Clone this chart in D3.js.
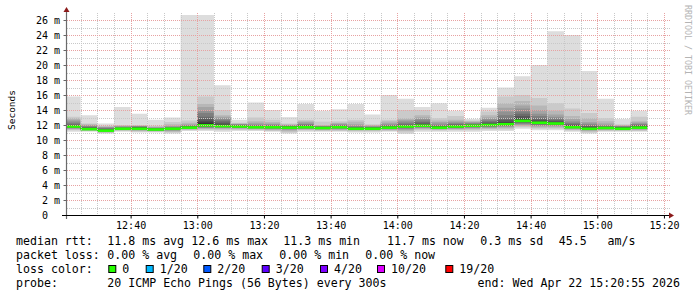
<!DOCTYPE html>
<html>
<head>
<meta charset="utf-8">
<script src="https://cdn.jsdelivr.net/npm/d3@7"></script>
<style>
html, body { margin: 0; padding: 0; background: #fff; }
svg { display: block; }
text { font-family: "DejaVu Sans Mono", monospace; fill: #000; }
</style>
</head>
<body>
<svg id="chart" width="697" height="297"></svg>
<script>
// time window of the graph (3 hours, 300s steps)
const startTime = new Date(2026, 3, 22, 12, 20, 55);
const endTime = new Date(2026, 3, 22, 15, 20, 55);
const firstStep = new Date(2026, 3, 22, 12, 25, 0);
const stepMinutes = 5;

// median rtt per step (ms)
const medians = [
  11.8, 11.45, 11.25, 11.5, 11.5, 11.4, 11.5, 11.65, 11.95, 11.85,
  11.8, 11.7, 11.7, 11.65, 11.7, 11.6, 11.7, 11.5, 11.5, 11.65,
  11.8, 11.9, 11.65, 11.8, 11.9, 12.0, 12.1, 12.55, 12.3, 12.2,
  11.7, 11.5, 11.6, 11.5, 11.65
];

// the 20 sorted pings of every step (ms)
const pings = [
  [11.1, 11.3, 11.4, 11.5, 11.55, 11.6, 11.65, 11.7, 11.75, 11.8, 11.8, 11.9, 12.0, 12.1, 12.3, 12.5, 12.7, 12.9, 13.1, 15.8],
  [11.1, 11.2, 11.25, 11.3, 11.35, 11.4, 11.45, 11.5, 11.5, 11.5, 11.55, 11.6, 11.65, 11.7, 11.8, 11.9, 12.0, 12.1, 12.2, 13.3],
  [10.85, 10.95, 11.0, 11.1, 11.15, 11.2, 11.2, 11.25, 11.25, 11.3, 11.3, 11.35, 11.4, 11.5, 11.6, 11.7, 11.75, 11.8, 11.9, 12.2],
  [11.1, 11.2, 11.3, 11.35, 11.4, 11.45, 11.45, 11.5, 11.5, 11.5, 11.55, 11.6, 11.6, 11.65, 11.7, 11.8, 11.85, 11.9, 12.0, 14.4],
  [11.0, 11.1, 11.2, 11.3, 11.35, 11.4, 11.45, 11.5, 11.5, 11.55, 11.6, 11.65, 11.7, 11.75, 11.8, 11.8, 11.85, 11.9, 12.0, 13.5],
  [11.0, 11.1, 11.15, 11.2, 11.25, 11.3, 11.35, 11.35, 11.4, 11.4, 11.45, 11.5, 11.5, 11.55, 11.6, 11.65, 11.7, 11.8, 11.9, 12.7],
  [10.85, 11.0, 11.1, 11.2, 11.3, 11.35, 11.4, 11.45, 11.5, 11.5, 11.5, 11.55, 11.6, 11.65, 11.7, 11.8, 11.9, 12.1, 12.4, 13.0],
  [11.2, 11.3, 11.4, 11.45, 11.5, 11.55, 11.6, 11.6, 11.65, 11.65, 11.7, 11.75, 11.8, 11.85, 11.9, 12.0, 12.1, 12.3, 12.6, 28.4],
  [11.2, 11.35, 11.5, 11.55, 11.6, 11.7, 11.8, 11.85, 11.9, 12.0, 12.3, 12.5, 12.8, 13.1, 13.6, 13.9, 14.4, 14.8, 15.8, 27.9],
  [11.1, 11.3, 11.45, 11.55, 11.6, 11.7, 11.75, 11.8, 11.85, 11.85, 11.95, 12.1, 12.3, 12.5, 12.7, 12.9, 13.1, 13.3, 14.0, 17.3],
  [11.2, 11.35, 11.45, 11.55, 11.6, 11.65, 11.7, 11.75, 11.8, 11.8, 11.85, 11.9, 11.95, 12.0, 12.05, 12.1, 12.15, 12.2, 12.3, 12.7],
  [11.2, 11.3, 11.4, 11.5, 11.55, 11.6, 11.65, 11.7, 11.7, 11.7, 11.75, 11.8, 11.85, 11.9, 12.0, 12.1, 12.3, 12.5, 13.0, 15.0],
  [11.1, 11.2, 11.3, 11.4, 11.5, 11.55, 11.6, 11.65, 11.7, 11.7, 11.75, 11.8, 11.85, 11.9, 12.0, 12.1, 12.2, 12.4, 12.7, 14.0],
  [10.85, 11.0, 11.15, 11.3, 11.4, 11.5, 11.55, 11.6, 11.65, 11.65, 11.7, 11.75, 11.8, 11.85, 11.9, 11.95, 12.0, 12.1, 12.2, 13.05],
  [11.1, 11.25, 11.35, 11.45, 11.5, 11.55, 11.6, 11.65, 11.7, 11.7, 11.75, 11.8, 11.9, 12.0, 12.1, 12.2, 12.4, 12.55, 12.7, 14.8],
  [11.1, 11.2, 11.3, 11.4, 11.45, 11.5, 11.55, 11.6, 11.6, 11.6, 11.65, 11.7, 11.75, 11.75, 11.8, 11.85, 11.9, 12.0, 12.45, 13.9],
  [11.1, 11.2, 11.3, 11.4, 11.5, 11.55, 11.6, 11.65, 11.7, 11.7, 11.75, 11.8, 11.85, 11.9, 12.0, 12.1, 12.2, 12.3, 12.5, 14.1],
  [11.0, 11.15, 11.25, 11.35, 11.4, 11.45, 11.5, 11.5, 11.5, 11.5, 11.55, 11.6, 11.65, 11.7, 11.8, 11.9, 12.1, 12.45, 12.7, 14.8],
  [11.0, 11.15, 11.25, 11.35, 11.4, 11.45, 11.5, 11.5, 11.5, 11.5, 11.55, 11.6, 11.65, 11.7, 11.75, 11.8, 11.9, 12.0, 12.1, 13.4],
  [11.1, 11.2, 11.3, 11.4, 11.45, 11.5, 11.55, 11.6, 11.65, 11.65, 11.7, 11.75, 11.8, 11.9, 12.0, 12.1, 12.3, 12.5, 12.7, 16.0],
  [10.8, 11.0, 11.2, 11.35, 11.45, 11.55, 11.65, 11.7, 11.75, 11.8, 11.85, 11.9, 12.0, 12.1, 12.3, 12.5, 12.7, 12.9, 14.0, 15.5],
  [11.1, 11.3, 11.45, 11.55, 11.65, 11.7, 11.75, 11.8, 11.85, 11.9, 11.95, 12.05, 12.2, 12.4, 12.6, 12.8, 13.0, 13.3, 14.0, 14.4],
  [11.1, 11.25, 11.35, 11.45, 11.5, 11.55, 11.6, 11.65, 11.65, 11.7, 11.75, 11.8, 11.85, 11.9, 12.0, 12.2, 12.4, 12.6, 12.9, 14.9],
  [11.1, 11.3, 11.4, 11.5, 11.55, 11.6, 11.65, 11.7, 11.75, 11.8, 11.85, 11.9, 12.0, 12.1, 12.2, 12.35, 12.5, 12.7, 13.2, 13.9],
  [11.1, 11.3, 11.45, 11.55, 11.65, 11.7, 11.75, 11.8, 11.85, 11.9, 11.95, 12.0, 12.05, 12.1, 12.2, 12.3, 12.4, 12.5, 12.6, 12.8],
  [11.2, 11.4, 11.5, 11.6, 11.7, 11.8, 11.85, 11.9, 11.95, 12.0, 12.05, 12.15, 12.3, 12.45, 12.6, 12.8, 13.0, 13.3, 13.8, 14.3],
  [11.2, 11.4, 11.55, 11.7, 11.8, 11.9, 11.95, 12.0, 12.05, 12.1, 12.2, 12.4, 12.65, 12.9, 13.3, 13.8, 14.3, 14.9, 15.8, 17.0],
  [11.5, 11.7, 11.85, 12.0, 12.1, 12.2, 12.3, 12.4, 12.5, 12.55, 12.7, 12.9, 13.2, 13.5, 13.8, 14.2, 14.6, 15.2, 16.0, 18.5],
  [11.3, 11.5, 11.65, 11.8, 11.9, 12.0, 12.1, 12.2, 12.25, 12.3, 12.4, 12.55, 12.7, 12.9, 13.2, 13.5, 14.0, 14.6, 15.6, 20.0],
  [11.3, 11.5, 11.65, 11.8, 11.9, 12.0, 12.05, 12.1, 12.15, 12.2, 12.3, 12.4, 12.55, 12.7, 12.9, 13.1, 13.4, 13.9, 14.9, 24.5],
  [11.1, 11.25, 11.35, 11.45, 11.55, 11.6, 11.65, 11.7, 11.7, 11.75, 11.8, 11.9, 12.0, 12.15, 12.3, 12.5, 12.8, 13.2, 14.2, 24.0],
  [10.85, 11.0, 11.15, 11.25, 11.35, 11.4, 11.45, 11.5, 11.5, 11.55, 11.6, 11.7, 11.8, 11.9, 12.05, 12.2, 12.4, 12.9, 13.6, 19.2],
  [11.1, 11.2, 11.3, 11.4, 11.45, 11.5, 11.55, 11.6, 11.6, 11.6, 11.65, 11.7, 11.75, 11.8, 11.9, 12.0, 12.2, 12.5, 12.9, 15.5],
  [11.1, 11.2, 11.3, 11.35, 11.4, 11.45, 11.5, 11.5, 11.5, 11.55, 11.6, 11.65, 11.7, 11.75, 11.8, 11.85, 11.9, 12.0, 12.1, 12.8],
  [11.1, 11.2, 11.3, 11.4, 11.5, 11.55, 11.6, 11.65, 11.65, 11.65, 11.7, 11.8, 11.9, 12.0, 12.1, 12.2, 12.35, 12.5, 13.1, 13.9]
];

const yTicks = [0, 2, 4, 6, 8, 10, 12, 14, 16, 18, 20, 22, 24, 26];
const yMax = 26.667;

const lossLabels = ["0", "1/20", "2/20", "3/20", "4/20", "10/20", "19/20"];
const lossColors = ["#26ff00", "#00b8ff", "#0059ff", "#5e00ff", "#7e00ff", "#dd00ff", "#ff0000"];

const rttStats = ["11.8 ms avg", "12.6 ms max", "11.3 ms min", "11.7 ms now", "0.3 ms sd", "45.5   am/s"];
const lossStats = ["0.00 % avg", "0.00 % max", "0.00 % min", "0.00 % now"];
const probeText = "20 ICMP Echo Pings (56 Bytes) every 300s";
const endText = "end: Wed Apr 22 15:20:55 2026";

const svg = d3.select("#chart");
const plotLeft = 67, plotRight = 667, plotTop = 15, plotBottom = 215;

const x = d3.scaleTime().domain([startTime, endTime]).range([plotLeft, plotRight]);
const y = d3.scaleLinear().domain([0, yMax]).range([plotBottom, plotTop]);

svg.append("defs").append("clipPath").attr("id", "plot")
  .append("rect").attr("x", plotLeft).attr("y", plotTop)
  .attr("width", plotRight - plotLeft).attr("height", plotBottom - plotTop);

// steps
const steps = medians.map((m, i) => {
  const end = d3.timeMinute.offset(firstStep, i * stepMinutes);
  return { start: d3.timeMinute.offset(end, -stepMinutes), end, median: m, pings: pings[i] };
});

// smoke: band k goes from ping k to ping 21-k, darker towards the middle
const half = 10;
const smokeColor = (k) => {
  const c = Math.floor(190 / half * (half - k)) + 50;
  return d3.rgb(c, c, c).formatHex();
};

const plot = svg.append("g").attr("clip-path", "url(#plot)");

steps.forEach((s) => {
  for (let k = 1; k <= half; k++) {
    const lo = s.pings[k - 1], hi = s.pings[20 - k];
    plot.append("rect")
      .attr("x", x(s.start))
      .attr("width", x(s.end) - x(s.start))
      .attr("y", y(hi))
      .attr("height", y(lo) - y(hi))
      .attr("fill", smokeColor(k));
  }
});

// median, coloured by loss (no loss here)
plot.selectAll("rect.median")
  .data(steps)
  .join("rect")
  .attr("class", "median")
  .attr("x", (d) => x(d.start))
  .attr("width", (d) => x(d.end) - x(d.start))
  .attr("y", (d) => y(d.median) - 1.3)
  .attr("height", 2.6)
  .attr("fill", lossColors[0]);

// grid
const minorTimes = d3.timeMinute.every(5).range(d3.timeMinute.offset(startTime, 1), endTime);
const majorTimes = d3.timeMinute.every(20).range(startTime, endTime);
const isMajor = (t) => t.getMinutes() % 20 === 0;
const grid = svg.append("g").attr("shape-rendering", "crispEdges").attr("stroke-dasharray", "1,1");

grid.selectAll("line.v")
  .data(minorTimes)
  .join("line")
  .attr("x1", (d) => Math.round(x(d)) + 0.5)
  .attr("x2", (d) => Math.round(x(d)) + 0.5)
  .attr("y1", plotTop - 2)
  .attr("y2", plotBottom)
  .attr("stroke", (d) => (isMajor(d) ? "#e7a2a2" : "#c8c8c8"));

grid.selectAll("line.h")
  .data(d3.range(1, 27))
  .join("line")
  .attr("x1", plotLeft)
  .attr("x2", plotRight + 3)
  .attr("y1", (d) => Math.round(y(d)) + 0.5)
  .attr("y2", (d) => Math.round(y(d)) + 0.5)
  .attr("stroke", (d) => (d % 2 === 0 ? "#e7a2a2" : "#c8c8c8"));

// axes labels
const xAxis = svg.append("g")
  .attr("transform", `translate(0,${plotBottom + 0.5})`)
  .call(d3.axisBottom(x).tickValues(majorTimes).tickFormat(d3.timeFormat("%H:%M")).tickSize(3).tickPadding(3.5));
xAxis.select(".domain").remove();
xAxis.attr("font-family", null).attr("font-size", null);
xAxis.selectAll("text").attr("font-size", "10px");
xAxis.selectAll("line").attr("stroke", "#000");

const yAxis = svg.append("g")
  .attr("transform", `translate(${plotLeft - 0.5},0)`)
  .call(d3.axisLeft(y).tickValues(yTicks)
    .tickFormat((d) => (d === 0 ? "0\u00a0\u00a0" : d + " m"))
    .tickSize(3).tickPadding(3.5));
yAxis.select(".domain").remove();
yAxis.attr("font-family", null).attr("font-size", null);
yAxis.selectAll("text").attr("font-size", "10px").attr("dy", "0.36em");
yAxis.selectAll("line").attr("stroke", "#666");

// axis lines with arrows
svg.append("line")
  .attr("x1", plotLeft - 0.5).attr("x2", plotLeft - 0.5)
  .attr("y1", plotBottom + 4).attr("y2", plotTop - 4)
  .attr("stroke", "#6b6b6b").attr("stroke-width", 1.2);
svg.append("line")
  .attr("x1", plotLeft - 5).attr("x2", plotRight + 3)
  .attr("y1", plotBottom + 0.5).attr("y2", plotBottom + 0.5)
  .attr("stroke", "#000");
svg.append("path")
  .attr("d", `M${plotLeft - 3.5},${plotTop - 3}L${plotLeft + 2.5},${plotTop - 3}L${plotLeft - 0.5},${plotTop - 8}Z`)
  .attr("fill", "#8b1a1a");
svg.append("path")
  .attr("d", `M${plotRight + 2},${plotBottom - 2.5}L${plotRight + 2},${plotBottom + 3.5}L${plotRight + 7},${plotBottom + 0.5}Z`)
  .attr("fill", "#8b1a1a");

// vertical unit label and watermark
svg.append("text")
  .attr("transform", "translate(14.5,110) rotate(-90)")
  .attr("text-anchor", "middle")
  .attr("font-size", "9.5px")
  .text("Seconds");

svg.append("text")
  .attr("transform", "translate(685,5) rotate(90)")
  .attr("font-size", "8.3px")
  .style("fill", "#b4b4b4")
  .text("RRDTOOL / TOBI OETIKER");

// legend
const legend = svg.append("g").attr("font-size", "11.6px");
const put = (tx, ty, s) => legend.append("text")
  .attr("x", tx).attr("y", ty)
  .attr("xml:space", "preserve").style("white-space", "pre")
  .text(s);

put(16, 244.5, "median rtt:");
[107.3, 191.3, 283.3, 387, 480.3, 558.7].forEach((px, i) => put(px, 244.5, rttStats[i]));

put(16, 258.5, "packet loss:");
[107.3, 193.3, 279.3, 365.3].forEach((px, i) => put(px, 258.5, lossStats[i]));

put(16, 272.5, "loss color:");
const boxX = [108.3, 145.7, 203.3, 261.7, 320, 377, 445.3];
lossLabels.forEach((lab, i) => {
  legend.append("rect")
    .attr("x", boxX[i] + 0.5).attr("y", 265.5)
    .attr("width", 7).attr("height", 7)
    .attr("fill", lossColors[i])
    .attr("stroke", "#000").attr("stroke-width", 1);
  put(boxX[i] + 14, 272.5, lab);
});

put(16, 286.5, "probe:");
put(107.3, 286.5, probeText);
legend.append("text").attr("x", 680).attr("y", 286.5).attr("text-anchor", "end").text(endText);
</script>
</body>
</html>
